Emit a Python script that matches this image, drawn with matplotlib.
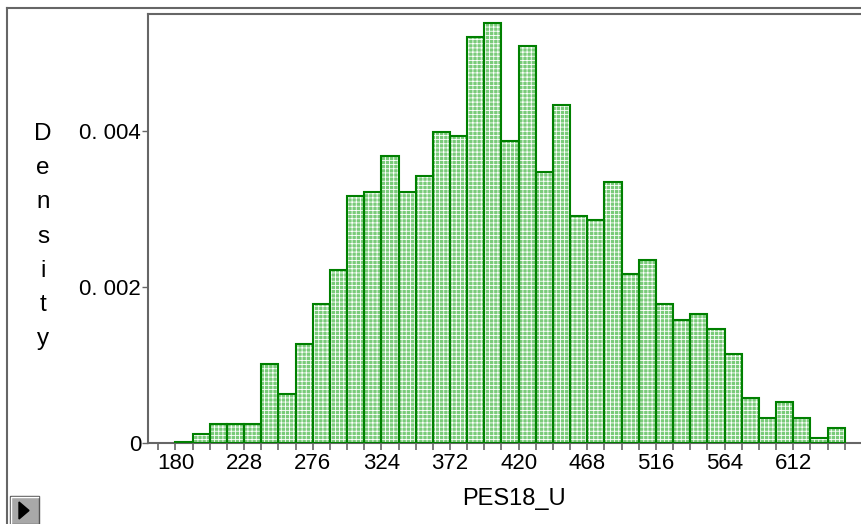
import matplotlib
matplotlib.use("Agg")
import matplotlib.pyplot as plt
from matplotlib.patches import Rectangle, Polygon
from matplotlib.lines import Line2D
from matplotlib.ticker import MultipleLocator, FixedLocator

plt.rcParams['font.family'] = ['Liberation Sans', 'DejaVu Sans']
plt.rcParams['hatch.linewidth'] = 0.6

# ---- data ----
bin_left = [180 + 12 * i for i in range(39)]
bin_width = 12
density = [0.00002, 0.000123, 0.000251, 0.000251, 0.000251, 0.00102, 0.00063,
           0.00127, 0.00179, 0.00222, 0.00317, 0.00322, 0.00368, 0.00322,
           0.00343, 0.00399, 0.00394, 0.00520, 0.00538, 0.00387, 0.00509,
           0.00348, 0.00433, 0.00291, 0.00286, 0.00335, 0.00217, 0.00235,
           0.00179, 0.00158, 0.00166, 0.00147, 0.00114, 0.00058, 0.00032,
           0.00053, 0.00032, 0.000068, 0.00019]
x_tick_labels = [180, 228, 276, 324, 372, 420, 468, 516, 564, 612]
y_ticks = [0, 0.002, 0.004]
y_tick_labels = ["0", "0. 002", "0. 004"]
x_label = "PES18_U"
y_label = "Density"

W, H = 861, 524
fig = plt.figure(figsize=(W / 100, H / 100), dpi=100)

def fx(px):
    return px / W

def fy(py):
    return 1 - py / H

ax_left, ax_top, ax_bottom = 148, 14, 443.3
ax = fig.add_axes([fx(ax_left), fy(ax_bottom), 1 - fx(ax_left), (ax_bottom - ax_top) / H])
ax.set_xlim(160.8, 659.4)
ax.set_ylim(0, 0.0055)

# bars: base, white hatch, green outline
ax.bar(bin_left, density, width=bin_width, align='edge', color='#7acb7a',
       edgecolor='none', linewidth=0, zorder=2)
ax.bar(bin_left, density, width=bin_width, align='edge', facecolor='none',
       edgecolor='white', hatch='++++', linewidth=0, zorder=3)
ax.bar(bin_left, density, width=bin_width, align='edge', facecolor='none',
       edgecolor='#008000', linewidth=1.5, zorder=4)

spine_col = '#666666'
ax.spines['right'].set_visible(False)
for s in ['left', 'top', 'bottom']:
    ax.spines[s].set_color(spine_col)
    ax.spines[s].set_linewidth(1.5)

ax.xaxis.set_major_locator(FixedLocator(x_tick_labels))
ax.xaxis.set_minor_locator(MultipleLocator(12))
ax.set_xticklabels([str(v) for v in x_tick_labels])
ax.tick_params(axis='x', which='both', direction='out', length=5, width=1.2,
               color=spine_col, labelsize=16, pad=2)
ax.set_yticks(y_ticks)
ax.set_yticklabels(y_tick_labels)
ax.tick_params(axis='y', direction='out', length=4, width=1.0, color=spine_col,
               labelsize=16, pad=1)

# x label
fig.text(fx(514), fy(499), x_label, ha='center', va='center', fontsize=17)

# vertical stacked y label
for i, ch in enumerate(y_label):
    fig.text(fx(43), fy(134 + i * 34.2), ch, ha='center', va='center', fontsize=17.5)

# outer frame
fig.add_artist(Line2D([fx(7), fx(7)], [fy(7.5), 0], transform=fig.transFigure,
                      color=spine_col, linewidth=1.5))
fig.add_artist(Line2D([fx(7), 1], [fy(7.5), fy(7.5)], transform=fig.transFigure,
                      color=spine_col, linewidth=1.5))

# little play button at bottom-left
fig.add_artist(Rectangle((fx(10), fy(524)), fx(29), 28 / H,
                         transform=fig.transFigure, facecolor='#a8a8a8',
                         edgecolor='#555555', linewidth=1.0))
fig.add_artist(Line2D([fx(11), fx(11), fx(38)], [fy(523), fy(497), fy(497)],
                      transform=fig.transFigure, color='white', linewidth=1.0))
fig.add_artist(Polygon([[fx(19), fy(502)], [fx(19), fy(519)], [fx(29), fy(510.5)]],
                       closed=True, transform=fig.transFigure, facecolor='black',
                       edgecolor='black'))

fig.savefig("out.png", dpi=100)
